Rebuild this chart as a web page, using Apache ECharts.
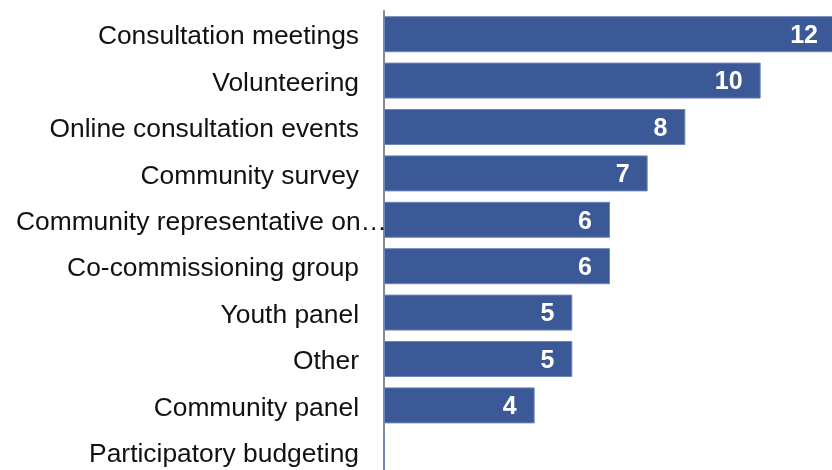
<!DOCTYPE html>
<html>
<head>
<meta charset="utf-8">
<script src="https://cdn.jsdelivr.net/npm/echarts@6/dist/echarts.min.js"></script>
<style>
  html, body { margin: 0; padding: 0; background: #fff; }
  #chart { width: 832px; height: 470px; }
</style>
</head>
<body>
<div id="chart"></div>
<script>
// Engagement methods, listed top to bottom
const categories = [
  'Consultation meetings',
  'Volunteering',
  'Online consultation events',
  'Community survey',
  'Community representative on\u2026',
  'Co-commissioning group',
  'Youth panel',
  'Other',
  'Community panel',
  'Participatory budgeting'
];
const counts = [12, 10, 8, 7, 6, 6, 5, 5, 4, 0];

// The long, shortened label sits further right, running into the axis line
const longLabel = 'Community representative on\u2026';

const chart = echarts.init(document.getElementById('chart'), null, { renderer: 'canvas' });

chart.setOption({
  animation: false,
  backgroundColor: '#ffffff',
  grid: {
    left: 384,
    top: 11,
    width: 452,
    height: 464,
    containLabel: false,
    outerBoundsMode: 'none'
  },
  xAxis: {
    type: 'value',
    min: 0,
    max: 12,
    show: false
  },
  yAxis: {
    type: 'category',
    inverse: true,
    data: categories.map(function (c) {
      return c === longLabel
        ? {
            value: c,
            textStyle: {
              verticalAlign: 'top',
              lineHeight: 26,
              padding: [-10, -28, 0, 0]
            }
          }
        : c;
    }),
    axisLine: { show: true, lineStyle: { color: '#8a8a8a', width: 2 } },
    axisTick: { show: false },
    splitLine: { show: false },
    axisLabel: {
      margin: 25,
      verticalAlign: 'top',
      lineHeight: 26,
      padding: [-10, 0, 0, 0],
      color: '#111111',
      fontSize: 26.4,
      fontFamily: '"Liberation Sans", Arial, sans-serif',
      hideOverlap: false
    }
  },
  series: [{
    type: 'bar',
    data: counts,
    barWidth: 36,
    itemStyle: {
      color: '#3b5897',
      borderColor: '#6f86b8',
      borderWidth: 1
    },
    label: {
      show: true,
      position: 'insideRight',
      distance: 18,
      offset: [0, 2],
      color: '#ffffff',
      fontSize: 25,
      fontWeight: 'bold',
      fontFamily: '"Liberation Sans", Arial, sans-serif',
      formatter: function (p) { return p.value > 0 ? String(p.value) : ''; }
    }
  }]
});
</script>
</body>
</html>
